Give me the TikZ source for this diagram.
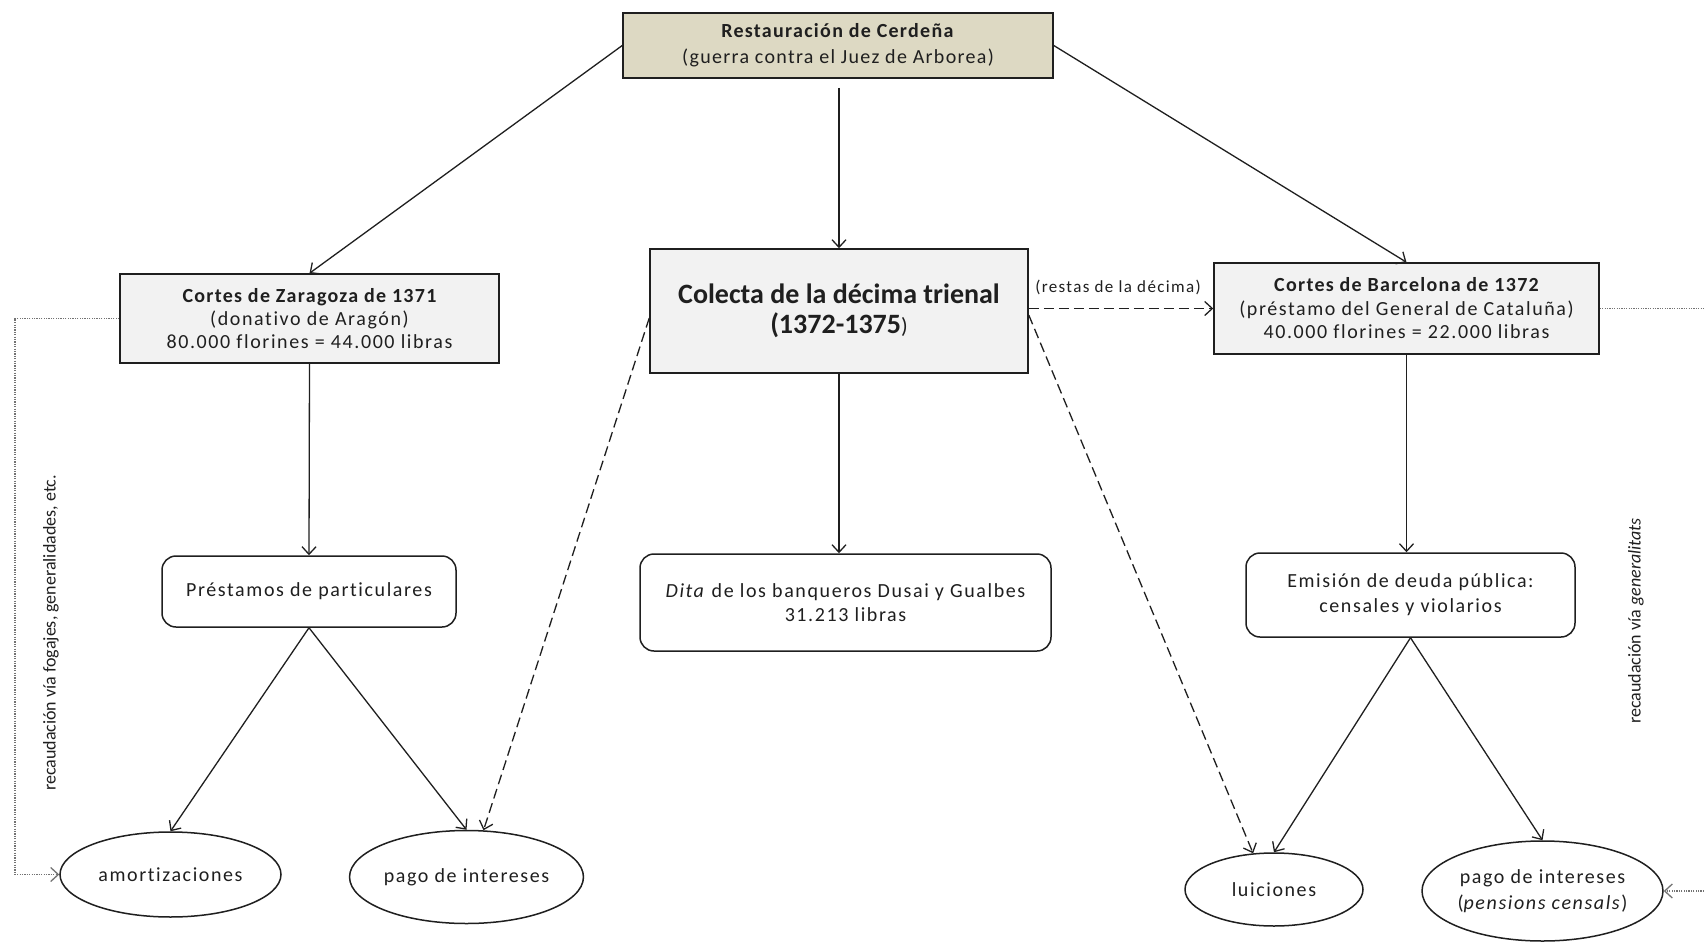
\documentclass[tikz,border=0pt]{standalone}
\usepackage{fontspec}
\setmainfont{Carlito}[Ligatures=NoCommon]
\newfontfamily\lsfont{Carlito}[LetterSpace=8,Ligatures=NoCommon]
\newfontfamily\lsfontb{Carlito}[LetterSpace=6.5,Ligatures=NoCommon]
\usetikzlibrary{arrows.meta,shapes.geometric,calc}
\definecolor{tanfill}{HTML}{DDD9C3}
\definecolor{grayfill}{HTML}{F2F2F2}
\definecolor{ink}{HTML}{1F1F1F}
\begin{document}
\begin{tikzpicture}[x=0.5pt,y=-0.5pt,
  every node/.style={text=ink, inner sep=0pt, align=center},
  box/.style={draw=ink, line width=0.75pt, rectangle},
  rbox/.style={draw=ink, line width=0.75pt, rectangle, rounded corners=7pt, fill=white},
  oval/.style={draw=ink, line width=0.75pt, ellipse, fill=white},
  conn/.style={draw=ink, line width=0.65pt, -{Straight Barb[length=3.8pt,width=7pt]}},
  dconn/.style={conn, dash pattern=on 5pt off 2.5pt},
  pconn/.style={draw=black!55, line width=0.65pt, dash pattern=on 0.6pt off 0.6pt},
  ptip/.style={-{Straight Barb[length=3.8pt,width=7pt]}},
  reg/.style={font=\lsfont\fontsize{10}{11.5}\selectfont},
]
\useasboundingbox (0,0) rectangle (1704,942);
\fill[white] (0,0) rectangle (1704,942);

% boxes
\node[box, fill=tanfill, minimum width=215pt, minimum height=32.5pt,
      font=\lsfontb\fontsize{10}{13}\selectfont] (top) at (838,45.5)
  {\textbf{Restauración de Cerdeña}\\(guerra contra el Juez de Arborea)};

\node[box, fill=grayfill, minimum width=189.5pt, minimum height=44.5pt,
      font=\lsfont\fontsize{10}{11.5}\selectfont] (zar) at (309.5,318.5)
  {{\lsfontb\bfseries Cortes de Zaragoza de 1371}\\(donativo de Aragón)\\80.000 florines = 44.000 libras};

\node[box, fill=grayfill, minimum width=189pt, minimum height=62pt,
      font=\fontsize{14}{15}\selectfont\bfseries] (col) at (839,311)
  {Colecta de la décima trienal\\(1372-1375{\mdseries\fontsize{11}{15}\selectfont)}};

\node[box, fill=grayfill, minimum width=192.5pt, minimum height=45.5pt,
      font=\lsfont\fontsize{10}{11.75}\selectfont] (bcn) at (1406.5,308.5)
  {{\lsfontb\bfseries Cortes de Barcelona de 1372}\\(préstamo del General de Cataluña)\\40.000 florines = 22.000 libras};

\node[rbox, minimum width=147pt, minimum height=35.5pt, reg] (pres) at (309,591.5)
  {Préstamos de particulares};

\node[rbox, minimum width=205.5pt, minimum height=48.5pt,
      font=\lsfont\fontsize{10}{12}\selectfont] (dita) at (845.5,602.5)
  {\textit{Dita} de los banqueros Dusai y Gualbes\\31.213 libras};

\node[rbox, minimum width=164.5pt, minimum height=42pt,
      font=\lsfont\fontsize{10}{12.5}\selectfont] (emi) at (1410.5,595)
  {Emisión de deuda pública:\\censales y violarios};

% ellipses
\node[oval, minimum width=110.5pt, minimum height=42.5pt, reg] (amort) at (170.5,874.5) {amortizaciones};
\node[oval, minimum width=109.5pt, minimum height=46.5pt, reg] (pago1) at (466.5,877) {pago de intereses};
\node[oval, minimum width=89pt, minimum height=36.5pt, reg] (luic) at (1274,889.5) {luiciones};
\node[oval, minimum width=120.5pt, minimum height=50pt,
      font=\lsfont\fontsize{10}{13}\selectfont] (pago2) at (1542.5,891)
  {pago de intereses\\(\textit{pensions censals})};

% labels
\node[font=\lsfont\fontsize{8.5}{10}\selectfont] (restas) at (1118,287) {(restas de la décima)};
\node[rotate=90, font=\fontsize{9}{11}\selectfont] (lrot) at (51,633)
  {recaudación vía fogajes, generalidades, etc.};
\node[rotate=90, font=\fontsize{9}{11}\selectfont] (rrot) at (1636,621)
  {recaudación vía \textit{generalitats}};

% connectors
\draw[conn] (top.west) -- (zar.north);
\draw[conn] (top.east) -- (bcn.north);
\draw[conn, shorten <=4.5pt] (col.north |- top.south) -- (col.north);
\draw[conn] (zar.south) -- (pres.north);
\draw[conn] (col.south) -- (col.south |- dita.north);
\draw[conn] (bcn.south) -- (bcn.south |- emi.north);
\draw[conn] (pres.south) -- (amort.north);
\draw[conn] (pres.south) -- (pago1.north);
\draw[conn] (emi.south) -- (luic.north);
\draw[conn] (emi.south) -- (pago2.north);
\draw[dconn] ([yshift=-3.5pt]col.west) -- (pago1.70);
\draw[dconn] ([yshift=-2pt]col.east) -- (luic.120);
\draw[dconn] (col.east |- bcn.west) -- (bcn.west);

% dotted collection lines
\coordinate (lc1) at (15,318.5);
\coordinate (lc2) at (15,874.5);
\draw[pconn, ptip] (zar.west) -- (lc1) -- (lc2) -- (amort.west);
\coordinate (rc1) at (1704,308.5);
\coordinate (rc2) at (1704,891);
\draw[pconn] (bcn.east) -- (rc1);
\draw[pconn, ptip] (rc2) -- (pago2.east);
\end{tikzpicture}
\end{document}
